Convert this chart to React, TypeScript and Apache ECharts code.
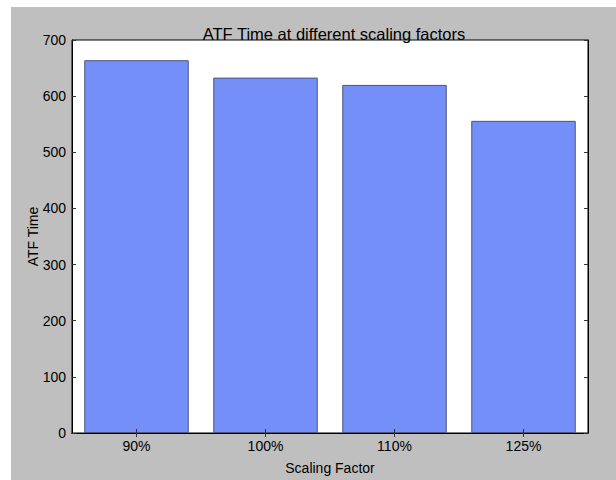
import React, { useEffect, useRef } from "react";
import * as echarts from "echarts";

const categories = ["90%", "100%", "110%", "125%"];
const atfTime = [664, 633, 620, 556];
const yTicks = [0, 100, 200, 300, 400, 500, 600, 700];

export default function App() {
  const ref = useRef<HTMLDivElement>(null);
  useEffect(() => {
    if (!ref.current) return;
    const chart = echarts.init(ref.current, undefined, { renderer: "svg" });
    const font = "'Liberation Sans', Arial, Helvetica, sans-serif";
    const yMin = yTicks[0];
    const yMax = yTicks[yTicks.length - 1];
    const yInt = yTicks[1] - yTicks[0];
    chart.setOption({
      animation: false,
      backgroundColor: "#bfbfbf",
      textStyle: { fontFamily: font },
      title: {
        text: "ATF Time at different scaling factors",
        left: 318,
        top: 13,
        textAlign: "center",
        textStyle: { fontFamily: font, fontSize: 16.5, fontWeight: "normal", color: "#000" },
      },
      grid: {
        left: 61,
        right: 28,
        top: 33,
        bottom: 41,
        show: true,
        backgroundColor: "#ffffff",
        borderColor: "#000",
        borderWidth: 1,
      },
      xAxis: [
        {
          type: "category",
          data: categories,
          position: "bottom",
          z: 5,
          name: "Scaling Factor",
          nameLocation: "middle",
          nameGap: 28,
          nameTextStyle: { fontFamily: font, fontSize: 14, color: "#000" },
          axisLine: { show: true, lineStyle: { color: "#000", width: 1 } },
          axisTick: { show: true, inside: true, alignWithLabel: true, length: 4, lineStyle: { color: "#333" } },
          axisLabel: { fontFamily: font, fontSize: 14, color: "#000", margin: 6 },
          splitLine: { show: false },
        },
        {
          type: "category",
          data: categories,
          position: "top",
          z: 5,
          axisLine: { show: true, lineStyle: { color: "#000", width: 1 } },
          axisTick: { show: true, inside: true, alignWithLabel: true, length: 4, lineStyle: { color: "#333" } },
          axisLabel: { show: false },
          splitLine: { show: false },
        },
      ],
      yAxis: [
        {
          type: "value",
          min: yMin,
          max: yMax,
          interval: yInt,
          position: "left",
          z: 5,
          name: "ATF Time",
          nameLocation: "middle",
          nameGap: 32,
          nameMoveOverlap: false,
          nameRotate: 90,
          nameTextStyle: { fontFamily: font, fontSize: 14, color: "#000" },
          axisLine: { show: true, lineStyle: { color: "#000", width: 1 } },
          axisTick: { show: true, inside: true, length: 4, lineStyle: { color: "#333" } },
          axisLabel: { fontFamily: font, fontSize: 14, color: "#000", margin: 6 },
          splitLine: { show: false },
        },
        {
          type: "value",
          min: yMin,
          max: yMax,
          interval: yInt,
          position: "right",
          z: 5,
          axisLine: { show: true, lineStyle: { color: "#000", width: 1 } },
          axisTick: { show: true, inside: true, length: 4, lineStyle: { color: "#333" } },
          axisLabel: { show: false },
          splitLine: { show: false },
        },
      ],
      series: [
        {
          type: "bar",
          data: atfTime,
          xAxisIndex: 0,
          yAxisIndex: 0,
          barWidth: "81%",
          itemStyle: { color: "#758ff8", borderColor: "#4d5478", borderWidth: 1 },
        },
      ],
    });
    return () => chart.dispose();
  }, []);
  return (
    <div style={{ position: "fixed", left: 0, top: 0, width: 616, height: 480, background: "#fff" }}>
      <div ref={ref} style={{ position: "absolute", left: 11, top: 7, width: 605, height: 473 }} />
    </div>
  );
}
